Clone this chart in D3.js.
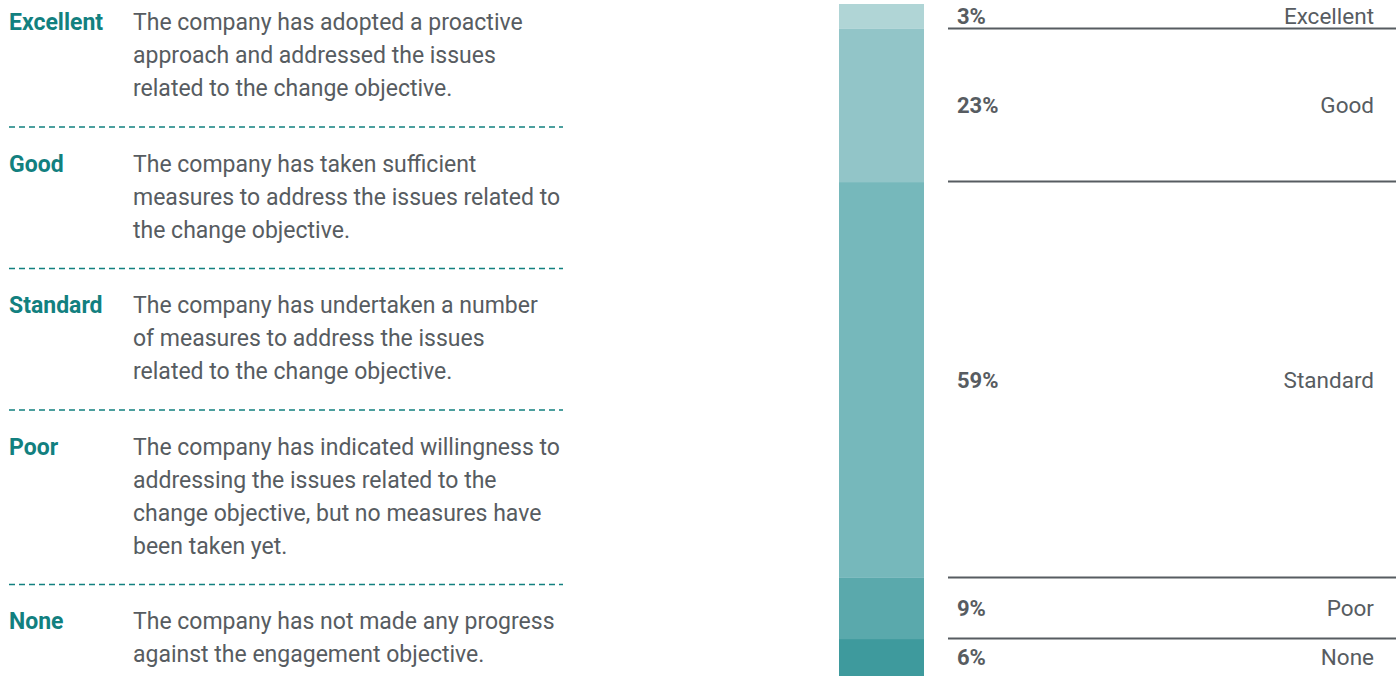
<!DOCTYPE html>
<html>
<head>
<meta charset="utf-8">
<script src="https://cdn.jsdelivr.net/npm/d3@7"></script>
<style>
  body { margin: 0; background: #fff; }
  svg { display: block; font-family: Roboto, "Open Sans", sans-serif; }
</style>
</head>
<body>
<div id="graph"></div>
<script>
// ratings, top to bottom
var categories = ["Excellent", "Good", "Standard", "Poor", "None"]
// share of companies (%)
var shares = [3.7, 22.8, 58.9, 9.1, 5.5]
var shareLabels = ["3%", "23%", "59%", "9%", "6%"]
var descriptions = [
  ["The company has adopted a proactive", "approach and addressed the issues", "related to the change objective."],
  ["The company has taken sufficient", "measures to address the issues related to", "the change objective."],
  ["The company has undertaken a number", "of measures to address the issues", "related to the change objective."],
  ["The company has indicated willingness to", "addressing the issues related to the", "change objective, but no measures have", "been taken yet."],
  ["The company has not made any progress", "against the engagement objective."]
]
var colors = ["#b0d5d6", "#92c5c8", "#76b8bb", "#5aa9ac", "#3e9a9d"]

var width = 1396, height = 676
var teal = "#12807f", grey = "#575c61"

var svg = d3.select('#graph').append('svg')
  .attr("width", width)
  .attr("height", height)

// ---- left: definitions list
var lineH = 33
var left = svg.append("g")
var yPos = 30
descriptions.forEach(function(lines, i) {
  left.append("text")
    .attr("x", 9)
    .attr("y", yPos)
    .attr("fill", teal)
    .attr("font-weight", "bold")
    .attr("font-size", "23px")
    .text(categories[i])

  var t = left.append("text")
    .attr("x", 133)
    .attr("y", yPos)
    .attr("fill", grey)
    .attr("font-size", "23px")
  lines.forEach(function(l, j) {
    t.append("tspan")
      .attr("x", 133)
      .attr("dy", j == 0 ? 0 : lineH)
      .text(l)
  })

  var last = yPos + (lines.length - 1) * lineH
  if (i < descriptions.length - 1) {
    left.append("line")
      .attr("x1", 9).attr("x2", 563)
      .attr("y1", last + 31).attr("y2", last + 31)
      .attr("stroke", teal)
      .attr("stroke-width", 1.5)
      .attr("stroke-dasharray", "6,4")
    yPos = last + 31 + 44.5
  }
})

// ---- right: stacked bar
var y = d3.scaleLinear()
  .domain([0, d3.sum(shares)])
  .range([4, 676])

var ends = d3.cumsum(shares)
var data = categories.map(function(c, i) {
  return {cat: c, y0: ends[i] - shares[i], y1: ends[i], label: shareLabels[i], color: colors[i]}
})

svg.selectAll(".seg")
  .data(data)
  .enter().append("rect")
  .attr("class", "seg")
  .attr("x", 839)
  .attr("width", 85)
  .attr("y", function(d) { return y(d.y0); })
  .attr("height", function(d) { return y(d.y1) - y(d.y0); })
  .attr("fill", function(d) { return d.color; })

// separators between segments
svg.selectAll(".sep")
  .data(data.slice(0, -1))
  .enter().append("line")
  .attr("class", "sep")
  .attr("x1", 948).attr("x2", width)
  .attr("y1", function(d) { return Math.round(y(d.y1)) - 0.5; })
  .attr("y2", function(d) { return Math.round(y(d.y1)) - 0.5; })
  .attr("stroke", grey)
  .attr("stroke-width", 2)

svg.selectAll(".pct")
  .data(data)
  .enter().append("text")
  .attr("class", "pct")
  .attr("x", 957)
  .attr("y", function(d) { return (y(d.y0) + y(d.y1)) / 2; })
  .attr("dy", "0.35em")
  .attr("fill", grey)
  .attr("font-weight", "bold")
  .attr("font-size", "22px")
  .text(function(d) { return d.label; })

svg.selectAll(".cat")
  .data(data)
  .enter().append("text")
  .attr("class", "cat")
  .attr("x", 1374)
  .attr("y", function(d) { return (y(d.y0) + y(d.y1)) / 2; })
  .attr("dy", "0.35em")
  .attr("text-anchor", "end")
  .attr("fill", grey)
  .attr("font-size", "22.5px")
  .text(function(d) { return d.cat; })
</script>
</body>
</html>
